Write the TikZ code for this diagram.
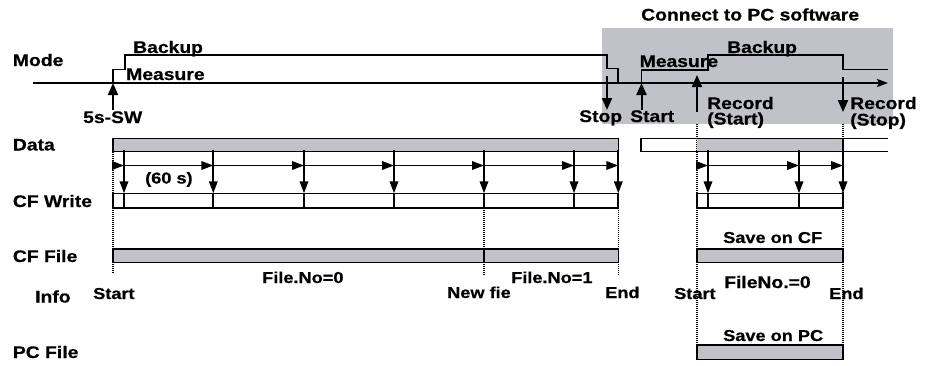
\documentclass[tikz,border=0pt]{standalone}
\usepackage{fontspec}
\setmainfont[FakeStretch=1.15]{Liberation Sans}[BoldFeatures={FakeBold=0.6}]
\usetikzlibrary{arrows.meta}
\definecolor{bargray}{RGB}{192,194,200}
\begin{document}
\begin{tikzpicture}[x=1pt,y=-1pt,
  big/.style={anchor=base west, inner sep=0pt, font=\fontsize{16.8}{19}\selectfont\bfseries},
  small/.style={anchor=base west, inner sep=0pt, font=\fontsize{15.8}{18}\selectfont\bfseries},
  modeline/.style={line width=1.4pt},
  timeline/.style={line width=2pt, -{Stealth[length=11pt,width=8pt,inset=2pt]}},
  bigarrow/.style={line width=2pt, -{Triangle[length=12pt,width=10pt]}},
  tickarrow/.style={line width=1.8pt, -{Triangle[length=12pt,width=8.5pt]}},
  tickline/.style={line width=1.8pt},
  bar/.style={draw=black, line width=1.5pt, fill=bargray},
  wbox/.style={draw=black, line width=1.4pt},
  dots/.style={line width=1.2pt, dash pattern=on 1pt off 1pt}]
\useasboundingbox (0,0) rectangle (931,365);
% shaded region
\fill[bargray] (602,28) rectangle (893,124);
\node[big] (connect) at (641,20.5) {Connect to PC software};
% row labels
\node[big] (lmode) at (12.7,66) {Mode};
\node[big] (ldata) at (12.7,150.5) {Data};
\node[big] (lcfw) at (12.7,207) {CF Write};
\node[big] (lcff) at (12.7,262) {CF File};
\node[big] (linfo) at (35,302.5) {Info};
\node[big] (lpcf) at (12.7,358) {PC File};
% timeline
\coordinate (tl0) at (33,83);
\coordinate (tl1) at (888,83);
\draw[timeline] (tl0) -- (tl1);
% mode levels
\draw[modeline] (113,83) -- (113,69.3) -- (125,69.3) -- (125,55) -- (607,55) -- (607,68.5) -- (618,68.5) -- (618,83);
\draw[modeline] (641.5,83) -- (641.5,70) -- (708,70) -- (708,55) -- (843,55) -- (843,69.5) -- (888,69.5);
\node[big] (backup1) at (133,53) {Backup};
\node[big] (measure1) at (126,80) {Measure};
\node[big] (measure2) at (639.5,67) {Measure};
\node[big] (backup2) at (727,53) {Backup};
% event arrows
\node[big] (sw) at (83,123) {5s-SW};
\draw[bigarrow] (113,110) -- (113,83);
\node[big] (stop) at (579,122) {Stop};
\draw[bigarrow] (607,76) -- (607,110);
\node[big] (start) at (630,122) {Start};
\draw[bigarrow] (641.5,110) -- (641.5,83);
\node[big] (rec1) at (707,109) {Record};
\node[big] (rec1b) at (707,124.5) {(Start)};
\draw[bigarrow] (697,112) -- (697,75);
\node[big] (rec2) at (850,109) {Record};
\node[big] (rec2b) at (850,125.5) {(Stop)};
\draw[bigarrow] (843,77) -- (843,112);
% dotted guide lines
\draw[dots] (113,151.7) -- (113,273);
\draw[dots] (484,208) -- (484,275);
\draw[dots] (618.3,208) -- (618.3,275);
\draw[dots] (697,124) -- (697,345);
\draw[dots] (843,124) -- (843,345);
% Data bars
\draw[bar] (113,138.3) rectangle (618.3,151.7);
\fill[bargray] (697,138.3) rectangle (843,151.7);
\draw[wbox] (888,138.3) -- (641,138.3) -- (641,151.7) -- (888,151.7);
% CF Write boxes
\draw[wbox] (113,193.3) rectangle (618.3,208);
\draw[wbox] (697,193.3) rectangle (843,208);
% write ticks
\foreach \x in {124,213.3,304,394,484,574,618.3,708,799,843} {
  \draw[tickarrow] (\x,150) -- (\x,193.3);
  \draw[tickline] (\x,193.3) -- (\x,208);
}
\draw[tickline] (843,138.3) -- (843,151.7);
% interval arrows
\foreach \a/\b in {113/124,124/213.3,213.3/304,304/394,394/484,484/574,574/618.3,697/708,708/799,799/843} {
  \draw[tickarrow] (\a,165.5) -- (\b,165.5);
}
\node[small] (sixty) at (145,183.5) {(60 s)};
% CF File bars
\draw[bar] (113,249) rectangle (618.3,262.7);
\draw[line width=1.5pt] (484,249) -- (484,262.7);
\draw[bar] (697,249) rectangle (843,262.7);
\node[small] (saveCF) at (723,243) {Save on CF};
% Info labels
\node[small] (fn0) at (262,283) {File.No=0};
\node[small] (fn1) at (511,283) {File.No=1};
\node[small] (newf) at (447,298) {New fie};
\node[small] (end1) at (605,298) {End};
\node[small] (start1) at (93,299) {Start};
\node[big] (fn2) at (724,288) {FileNo.=0};
\node[small] (start2) at (674,299) {Start};
\node[small] (end2) at (829,299) {End};
% PC File
\node[small] (savePC) at (723,341) {Save on PC};
\draw[bar] (697,345) rectangle (843,359.3);
\end{tikzpicture}
\end{document}
